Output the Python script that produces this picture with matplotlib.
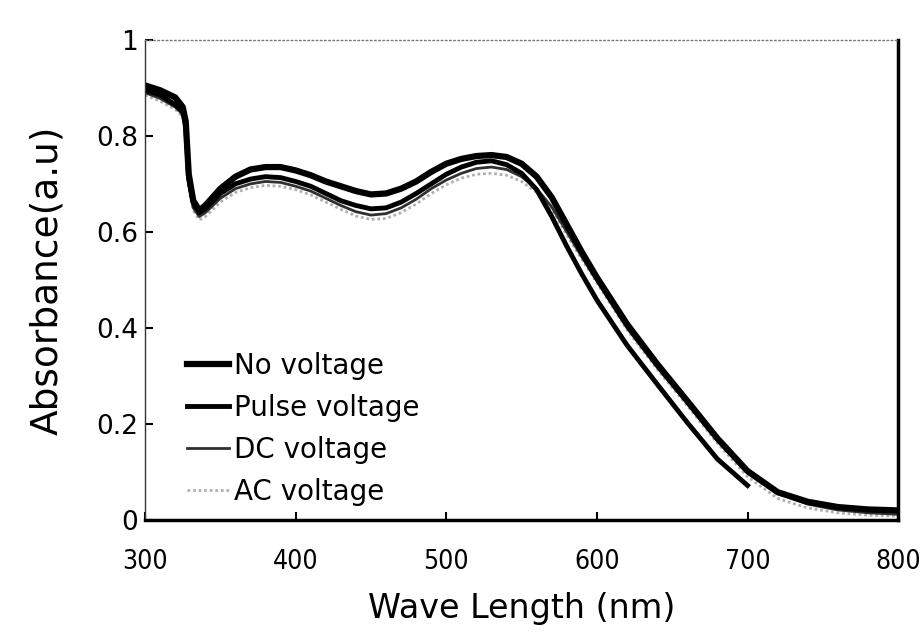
import numpy as np
import matplotlib
matplotlib.use("Agg")
import matplotlib.pyplot as plt

wavelength = [300, 310, 320, 325, 327, 329, 332, 336, 340, 350, 360, 370, 380, 390,
              400, 410, 420, 430, 440, 450, 460, 470, 480, 490, 500, 510, 520, 530,
              540, 550, 560, 570, 580, 590, 600, 620, 640, 660, 680, 700, 720, 740,
              760, 780, 800]

no_voltage = [0.905, 0.895, 0.880, 0.860, 0.830, 0.720, 0.665, 0.645, 0.655, 0.690,
              0.715, 0.730, 0.735, 0.735, 0.728, 0.718, 0.705, 0.695, 0.685, 0.678,
              0.680, 0.690, 0.705, 0.725, 0.742, 0.752, 0.758, 0.760, 0.756, 0.742,
              0.715, 0.672, 0.615, 0.558, 0.505, 0.408, 0.325, 0.248, 0.170, 0.102,
              0.058, 0.038, 0.027, 0.022, 0.020]

pulse_voltage = [0.895, 0.885, 0.865, 0.850, 0.820, 0.710, 0.660, 0.640, 0.648, 0.680,
                 0.700, 0.710, 0.715, 0.713, 0.705, 0.695, 0.680, 0.665, 0.655, 0.648,
                 0.650, 0.662, 0.680, 0.700, 0.720, 0.735, 0.745, 0.748, 0.740, 0.722,
                 0.688, 0.632, 0.570, 0.512, 0.458, 0.364, 0.283, 0.203, 0.127, 0.072,
                 np.nan, np.nan, np.nan, np.nan, np.nan]

dc_voltage = [0.890, 0.878, 0.860, 0.845, 0.810, 0.700, 0.650, 0.632, 0.640, 0.670,
              0.690, 0.700, 0.705, 0.703, 0.695, 0.685, 0.670, 0.655, 0.642, 0.635,
              0.638, 0.650, 0.668, 0.690, 0.708, 0.722, 0.732, 0.735, 0.730, 0.715,
              0.690, 0.652, 0.600, 0.548, 0.498, 0.400, 0.318, 0.243, 0.165, 0.098,
              0.055, 0.033, 0.021, 0.015, 0.012]

ac_voltage = [0.885, 0.872, 0.855, 0.840, 0.805, 0.695, 0.645, 0.625, 0.632, 0.662,
              0.682, 0.692, 0.697, 0.695, 0.688, 0.677, 0.662, 0.647, 0.633, 0.626,
              0.628, 0.640, 0.658, 0.680, 0.698, 0.712, 0.720, 0.722, 0.718, 0.705,
              0.682, 0.645, 0.594, 0.543, 0.494, 0.396, 0.314, 0.238, 0.160, 0.090,
              0.045, 0.025, 0.015, 0.010, 0.008]

series_labels = ["No voltage", "Pulse voltage", "DC voltage", "AC voltage"]
x_ticks = [300, 400, 500, 600, 700, 800]
y_ticks = [0, 0.2, 0.4, 0.6, 0.8, 1]
y_tick_labels = ["0", "0.2", "0.4", "0.6", "0.8", "1"]

fig = plt.figure(figsize=(9.24, 6.42), dpi=100)
ax = fig.add_axes([0.157, 0.19, 0.815, 0.748])

ax.plot(wavelength, ac_voltage, color="#b0b0b0", lw=2.0, ls=(0, (1, 1)), label=series_labels[3])
ax.plot(wavelength, dc_voltage, color="#303030", lw=2.0, label=series_labels[2])
ax.plot(wavelength, pulse_voltage, color="black", lw=3.5, label=series_labels[1])
ax.plot(wavelength, no_voltage, color="black", lw=4.5, label=series_labels[0])

ax.set_xlim(300, 800)
ax.set_ylim(0, 1)
ax.set_xticks(x_ticks)
ax.set_yticks(y_ticks)
ax.set_yticklabels(y_tick_labels)
ax.tick_params(direction="in", length=6, width=1.5)
ax.tick_params(axis="x", pad=21)
ax.tick_params(axis="y", labelsize=19, pad=5)
for lab in ax.get_xticklabels():
    lab.set_fontsize(19)
    lab.set_fontstretch("condensed")

ax.spines["top"].set_linestyle((0, (1, 2)))
ax.spines["top"].set_color("#777777")
ax.spines["top"].set_linewidth(1.0)
ax.spines["left"].set_linestyle((0, (2, 1)))
ax.spines["left"].set_color("#333333")
ax.spines["left"].set_linewidth(1.0)
ax.spines["right"].set_linewidth(2.5)
ax.spines["bottom"].set_linewidth(2.5)

ax.set_xlabel("Wave Length (nm)", fontsize=24, labelpad=12)
ax.set_ylabel("Absorbance(a.u)", fontsize=27, labelpad=22)

handles, labels = ax.get_legend_handles_labels()
order = [3, 2, 1, 0]
leg = ax.legend([handles[i] for i in order], [labels[i] for i in order],
                loc="upper left", bbox_to_anchor=(0.056, 0.35), frameon=False,
                fontsize=20, handlelength=1.5, handletextpad=0.2, labelspacing=0.5,
                borderaxespad=0, borderpad=0)

fig.savefig("out.png", dpi=100, facecolor="white")
